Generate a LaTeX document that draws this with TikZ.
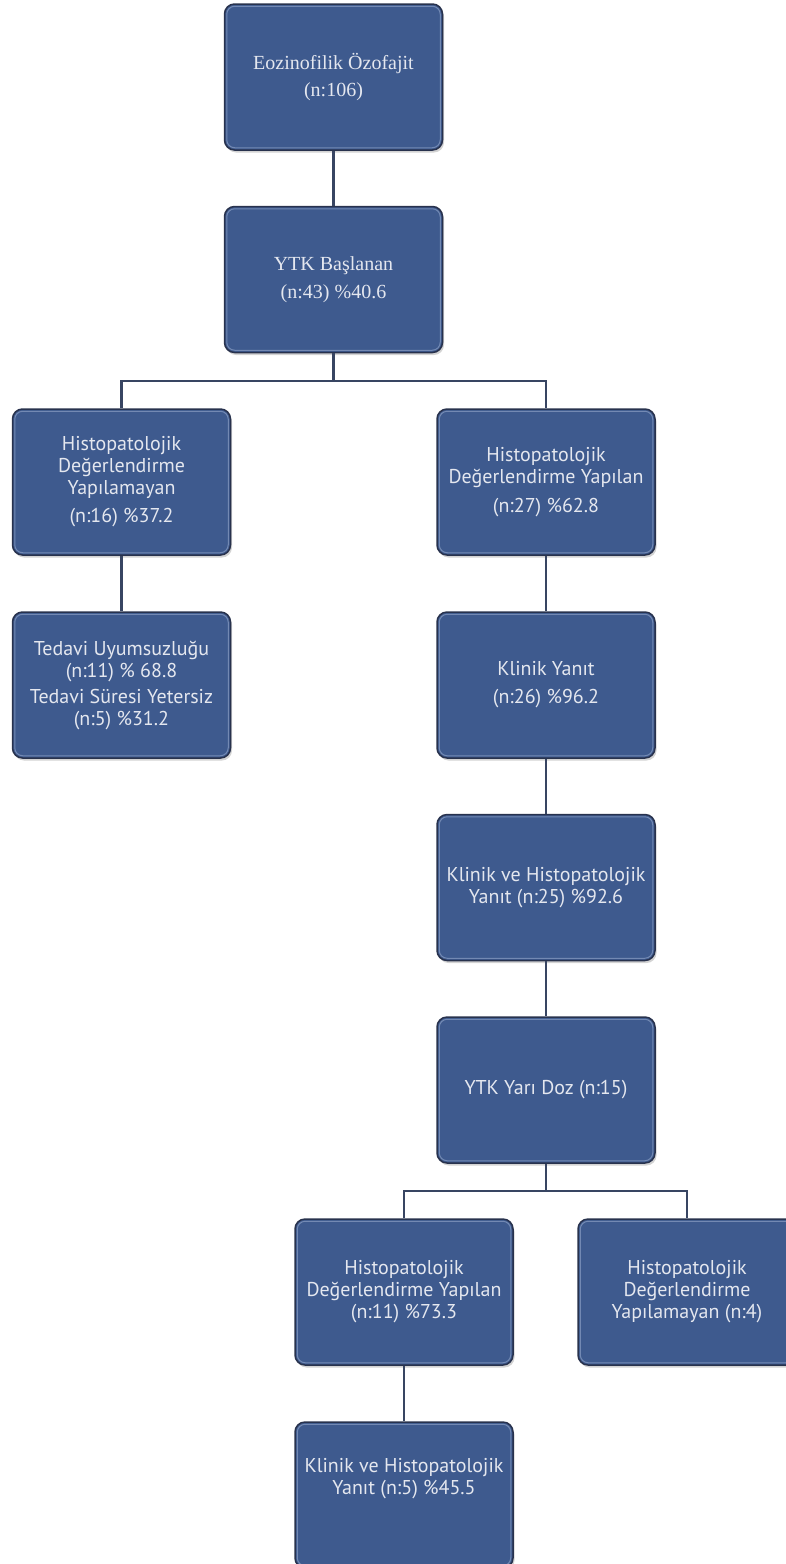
\documentclass[tikz,border=0pt]{standalone}
\usepackage{fontspec}
\setmainfont{Liberation Serif}
\newfontfamily\gillfont{PT Sans}
\usetikzlibrary{shadows}
\definecolor{boxfill}{HTML}{3E5A8E}
\definecolor{boxedge}{HTML}{28324D}
\definecolor{boxtext}{HTML}{E4E7EF}
\definecolor{bevel}{HTML}{9FB1D3}
\definecolor{conn}{HTML}{384562}
\tikzset{
  box/.style={rectangle, rounded corners=10pt, minimum width=218pt, minimum height=146pt,
    fill=boxfill, draw=boxedge, line width=1.5pt, text=boxtext, align=center, inner sep=0pt,
    font=\gillfont\fontsize{20}{22}\selectfont,
    drop shadow={opacity=0.35, shadow xshift=1.5pt, shadow yshift=-2.5pt}},
  serifbox/.style={box, font=\rmfamily\fontsize{20}{27.5}\selectfont},
  bevelline/.style={draw=bevel, line width=1pt, opacity=0.55, rounded corners=8pt},
  conn/.style={draw=conn, line width=2.1pt},
}
\begin{document}
\begin{tikzpicture}[x=1pt,y=-1pt]
\useasboundingbox (0,0) rectangle (786,1564);
\clip (0,0) rectangle (786,1564);
\node[serifbox] (b1) at (333.5,77) {Eozinofilik Özofajit\\(n:106)};
\node[serifbox] (b2) at (333.5,279.5) {YTK Başlanan\\(n:43) \%40.6};
\node[box] (l3) at (121.5,482) {Histopatolojik\\Değerlendirme\\Yapılamayan\\[6pt](n:16) \%37.2};
\node[box] (r3) at (546,482) {Histopatolojik\\Değerlendirme Yapılan\\[7pt](n:27) \%62.8};
\node[box] (l4) at (121.5,685) {Tedavi Uyumsuzluğu\\(n:11) \% 68.8\\[4pt]Tedavi Süresi Yetersiz\\(n:5) \%31.2};
\node[box] (r4) at (546,685) {Klinik Yanıt\\[6pt](n:26) \%96.2};
\node[box] (r5) at (546,887.5) {Klinik ve Histopatolojik\\Yanıt (n:25) \%92.6};
\node[box] (r6) at (546,1090) {YTK Yarı Doz (n:15)};
\node[box] (b7) at (404,1292) {Histopatolojik\\Değerlendirme Yapılan\\(n:11) \%73.3};
\node[box] (b7r) at (687,1292) {Histopatolojik\\Değerlendirme\\Yapılamayan (n:4)};
\node[box] (b8) at (404,1495) {Klinik ve Histopatolojik\\Yanıt (n:5) \%45.5\\[9pt]\strut};
\foreach \n in {b1,b2,l3,r3,l4,r4,r5,r6,b7,b7r,b8}{
  \draw[bevelline] ([shift={(3pt,-3pt)}]\n.north west) rectangle ([shift={(-3pt,3pt)}]\n.south east);
}
\coordinate (j1) at (333.5,381);
\coordinate (j2) at (546,1191);
\draw[conn] (b1.south) -- (b2.north);
\draw[conn] (b2.south) -- (j1);
\draw[conn] (l3.north) -- (l3.north |- j1) -- (r3.north |- j1) -- (r3.north);
\draw[conn] (l3.south) -- (l4.north);
\draw[conn] (r3.south) -- (r4.north);
\draw[conn] (r4.south) -- (r5.north);
\draw[conn] (r5.south) -- (r6.north);
\draw[conn] (r6.south) -- (j2);
\draw[conn] (b7.north) -- (b7.north |- j2) -- (b7r.north |- j2) -- (b7r.north);
\draw[conn] (b7.south) -- (b8.north);
\end{tikzpicture}
\end{document}
